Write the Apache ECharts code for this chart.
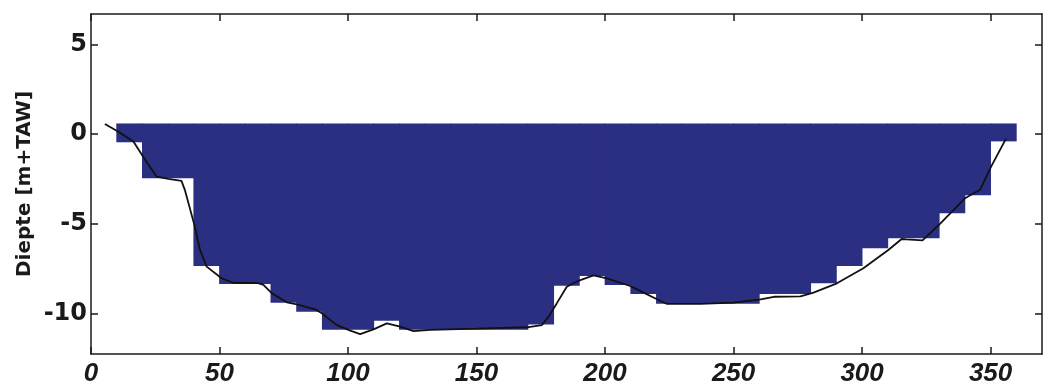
<!DOCTYPE html>
<html>
<head>
<meta charset="utf-8">
<title>Diepte dwarsprofiel</title>
<script src="https://cdn.jsdelivr.net/npm/echarts@6/dist/echarts.min.js"></script>
<style>
  html, body { margin: 0; padding: 0; background: #ffffff; }
  #chart { width: 1044px; height: 389px; }
</style>
</head>
<body>
<div id="chart"></div>
<script>
// Tick positions along both axes
const xTicks = [0, 50, 100, 150, 200, 250, 300, 350];
const yTicks = [-10, -5, 0, 5];

// Grid columns: left/right edges (m) and the bottom of the wet column (m+TAW)
const cellLeft  = [10, 20, 30, 40, 50, 60, 70, 80, 90, 100, 110, 120, 130, 140, 150, 160, 170, 180,
                   190, 200, 210, 220, 230, 240, 250, 260, 270, 280, 290, 300, 310, 320, 330, 340, 350];
const cellRight = [20, 30, 40, 50, 60, 70, 80, 90, 100, 110, 120, 130, 140, 150, 160, 170, 180, 190,
                   200, 210, 220, 230, 240, 250, 260, 270, 280, 290, 300, 310, 320, 330, 340, 350, 360];
const cellBottom = [-0.45, -2.45, -2.45, -7.35, -8.35, -8.35, -9.4, -9.9, -10.9, -10.9, -10.4, -10.9,
                    -10.9, -10.9, -10.9, -10.9, -10.6, -8.45, -7.9, -8.4, -8.9, -9.45, -9.45, -9.45,
                    -9.45, -8.9, -8.9, -8.3, -7.35, -6.35, -5.8, -5.8, -4.4, -3.4, -0.4];
const waterLevel = 0.6;

// Measured bed profile
const profileX = [5.4, 10.5, 16.5, 20.3, 25.5, 30.1, 35.2, 36.5, 40.4, 42.4, 45.0, 50.8, 55.3, 65.0,
                  67.1, 70.4, 76.2, 80.1, 87.2, 89.8, 95.7, 100.9, 104.7, 109.9, 115.1, 120.3, 125.5,
                  132.0, 150.1, 169.6, 175.4, 178.0, 181.2, 185.1, 189.6, 195.5, 200.7, 209.8, 215.0,
                  220.2, 224.1, 237.1, 250.0, 260.5, 265.7, 276.0, 281.1, 290.2, 300.5, 310.2, 315.4,
                  317.3, 323.5, 330.3, 340.0, 345.9, 350.2, 356.0];
const profileY = [0.57, 0.15, -0.41, -1.25, -2.36, -2.49, -2.6, -3.1, -5.15, -6.45, -7.38, -8.03, -8.28,
                  -8.3, -8.4, -8.87, -9.37, -9.48, -9.76, -9.98, -10.64, -10.95, -11.14, -10.88, -10.54,
                  -10.73, -10.97, -10.9, -10.84, -10.76, -10.64, -10.17, -9.43, -8.5, -8.17, -7.87,
                  -8.03, -8.46, -8.83, -9.2, -9.46, -9.46, -9.39, -9.2, -9.06, -9.04, -8.83, -8.31,
                  -7.47, -6.45, -5.84, -5.86, -5.92, -5.0, -3.57, -3.1, -1.81, -0.25];

const cellData = cellLeft.map((x0, i) => [x0, cellRight[i], cellBottom[i], waterLevel]);
const profileData = profileX.map((x, i) => [x, profileY[i]]);

const ink = '#1a1a1a';
const yLabelFont = { fontFamily: 'DejaVu Sans', fontWeight: 'bold', fontSize: 24, color: ink };
const xLabelFont = { fontFamily: 'Liberation Sans', fontStyle: 'italic', fontWeight: 'bold', fontSize: 26, color: ink };

const baseX = {
  type: 'value', min: 0, max: 370,
  axisLine: { show: true, onZero: false, lineStyle: { color: ink, width: 1.5 } },
  axisTick: { show: true, inside: true, length: 7, customValues: xTicks, lineStyle: { color: ink, width: 1.5 } },
  splitLine: { show: false }
};
const baseY = {
  type: 'value', min: -12.25, max: 6.7,
  axisLine: { show: true, onZero: false, lineStyle: { color: ink, width: 1.5 } },
  axisTick: { show: true, inside: true, length: 7, customValues: yTicks, lineStyle: { color: ink, width: 1.5 } },
  splitLine: { show: false }
};

const chart = echarts.init(document.getElementById('chart'), null, { renderer: 'canvas' });
chart.setOption({
  backgroundColor: '#ffffff',
  animation: false,
  grid: { left: 91, right: 2, top: 14, bottom: 35, containLabel: false },
  xAxis: [
    Object.assign({}, baseX, {
      position: 'bottom',
      axisLabel: Object.assign({ show: true, margin: 7, customValues: xTicks }, xLabelFont)
    }),
    Object.assign({}, baseX, { position: 'top', axisLabel: { show: false } })
  ],
  yAxis: [
    Object.assign({}, baseY, {
      position: 'left',
      name: 'Diepte [m+TAW]',
      nameLocation: 'middle',
      nameGap: 56,
      nameMoveOverlap: false,
      nameRotate: 90,
      nameTextStyle: { fontFamily: 'DejaVu Sans', fontWeight: 'bold', fontSize: 20, color: ink },
      axisLabel: Object.assign({ show: true, margin: 4, customValues: yTicks }, yLabelFont)
    }),
    Object.assign({}, baseY, { position: 'right', axisLabel: { show: false } })
  ],
  series: [
    {
      type: 'custom',
      name: 'water',
      xAxisIndex: 0,
      yAxisIndex: 0,
      encode: { x: [0, 1], y: [2, 3] },
      data: cellData,
      renderItem: function (params, api) {
        const topLeft = api.coord([api.value(0), api.value(3)]);
        const bottomRight = api.coord([api.value(1), api.value(2)]);
        return {
          type: 'rect',
          shape: {
            x: topLeft[0] - 0.4,
            y: topLeft[1],
            width: bottomRight[0] - topLeft[0] + 0.8,
            height: bottomRight[1] - topLeft[1]
          },
          style: { fill: '#2b2f82' }
        };
      },
      z: 2
    },
    {
      type: 'line',
      name: 'bodem',
      xAxisIndex: 0,
      yAxisIndex: 0,
      data: profileData,
      showSymbol: false,
      symbol: 'none',
      lineStyle: { color: '#111111', width: 1.8 },
      z: 3
    }
  ]
});
</script>
</body>
</html>
